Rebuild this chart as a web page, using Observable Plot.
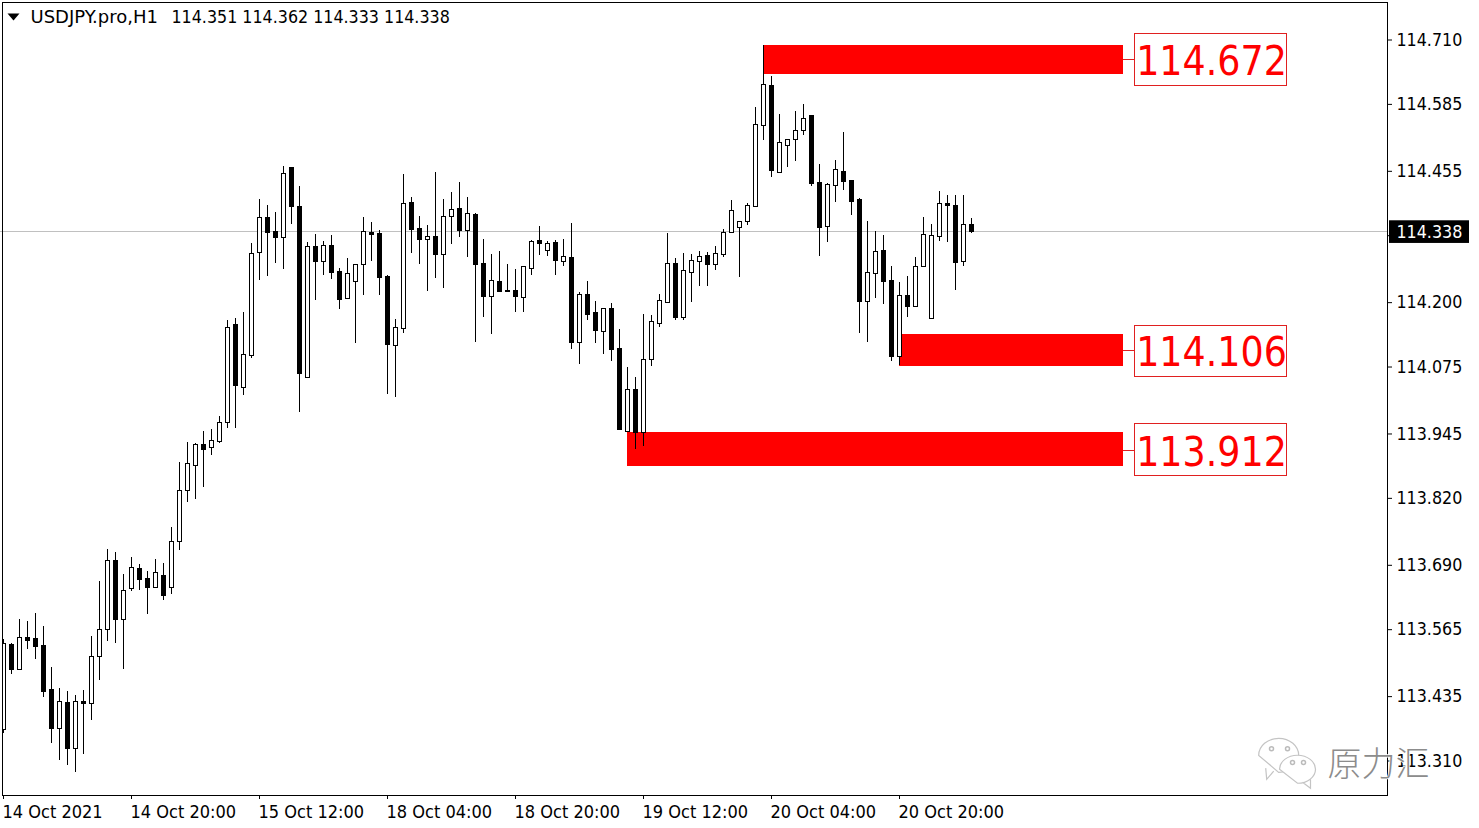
<!DOCTYPE html>
<html>
<head>
<meta charset="utf-8">
<script src="https://cdn.jsdelivr.net/npm/d3@7"></script>
<script src="https://cdn.jsdelivr.net/npm/@observablehq/plot@0.6"></script>
<style>
html,body{margin:0;padding:0;background:#fff;}
svg{display:block;max-width:none;}
</style>
</head>
<body>
<div id="chart"></div>
<script>
const openP = [113.370,113.535,113.487,113.549,113.547,113.533,113.448,113.372,113.423,113.333,113.425,113.421,113.511,113.564,113.698,113.584,113.644,113.683,113.663,113.646,113.669,113.646,113.735,113.834,113.883,113.923,113.917,113.929,113.966,114.157,114.034,114.096,114.296,114.364,114.337,114.326,114.461,114.386,114.053,114.308,114.279,114.310,114.260,114.207,114.240,114.273,114.335,114.333,114.250,114.116,114.149,114.394,114.343,114.322,114.327,114.292,114.366,114.382,114.339,114.370,114.275,114.211,114.240,114.223,114.223,114.209,114.265,114.320,114.300,114.316,114.279,114.287,114.122,114.215,114.180,114.143,114.188,114.110,113.949,114.030,113.947,114.089,114.158,114.199,114.275,114.170,114.258,114.279,114.291,114.273,114.292,114.335,114.345,114.357,114.386,114.543,114.621,114.452,114.504,114.516,114.533,114.562,114.432,114.347,114.427,114.454,114.436,114.399,114.201,114.256,114.300,114.242,114.095,114.213,114.192,114.269,114.168,114.327,114.392,114.388,114.279,114.351];
const highP = [113.545,113.537,113.584,113.580,113.595,113.570,113.491,113.450,113.444,113.436,113.446,113.551,113.658,113.720,113.714,113.671,113.704,113.691,113.677,113.700,113.692,113.762,113.889,113.927,113.925,113.949,113.953,113.978,114.164,114.168,114.180,114.314,114.399,114.388,114.374,114.463,114.461,114.425,114.316,114.331,114.318,114.329,114.265,114.285,114.273,114.364,114.355,114.339,114.252,114.166,114.448,114.403,114.366,114.349,114.452,114.399,114.413,114.432,114.403,114.372,114.322,114.292,114.298,114.273,114.263,114.269,114.320,114.347,114.318,114.320,114.322,114.353,114.219,114.240,114.201,114.188,114.197,114.147,114.073,114.054,114.176,114.174,114.215,114.333,114.285,114.294,114.292,114.298,114.296,114.308,114.341,114.397,114.357,114.392,114.578,114.698,114.638,114.564,114.516,114.570,114.584,114.562,114.467,114.430,114.475,114.529,114.436,114.401,114.357,114.337,114.329,114.269,114.238,114.250,114.287,114.364,114.351,114.415,114.407,114.407,114.407,114.362];
const lowP = [113.362,113.477,113.487,113.526,113.506,113.432,113.343,113.310,113.300,113.287,113.322,113.388,113.465,113.541,113.537,113.487,113.638,113.640,113.593,113.646,113.621,113.632,113.718,113.811,113.817,113.840,113.902,113.925,113.955,113.955,114.019,114.091,114.242,114.250,114.275,114.263,114.351,113.986,114.053,114.203,114.252,114.244,114.186,114.207,114.120,114.213,114.279,114.213,114.021,114.015,114.139,114.294,114.273,114.221,114.246,114.227,114.312,114.326,114.287,114.122,114.170,114.137,114.221,114.221,114.180,114.180,114.252,114.291,114.289,114.252,114.269,114.108,114.079,114.164,114.120,114.098,114.085,113.951,113.947,113.913,113.920,114.075,114.151,114.199,114.164,114.164,114.199,114.230,114.230,114.261,114.287,114.333,114.248,114.349,114.384,114.514,114.442,114.452,114.461,114.473,114.524,114.425,114.289,114.316,114.394,114.417,114.368,114.139,114.122,114.207,114.195,114.085,114.077,114.170,114.192,114.269,114.168,114.318,114.316,114.223,114.269,114.333];
const closeP = [113.537,113.487,113.549,113.543,113.531,113.444,113.372,113.425,113.333,113.425,113.421,113.512,113.564,113.698,113.584,113.640,113.685,113.661,113.646,113.675,113.630,113.735,113.834,113.887,113.923,113.913,113.931,113.966,114.151,114.038,114.098,114.294,114.364,114.335,114.326,114.450,114.386,114.061,114.308,114.279,114.310,114.258,114.205,114.256,114.273,114.337,114.331,114.248,114.118,114.151,114.392,114.341,114.322,114.327,114.292,114.366,114.380,114.339,114.372,114.273,114.211,114.242,114.221,114.221,114.211,114.269,114.318,114.314,114.314,114.281,114.289,114.122,114.215,114.176,114.145,114.188,114.108,113.953,114.030,113.947,114.089,114.162,114.203,114.275,114.170,114.262,114.281,114.289,114.273,114.294,114.335,114.378,114.357,114.388,114.545,114.623,114.456,114.510,114.516,114.533,114.557,114.430,114.345,114.428,114.458,114.434,114.395,114.201,114.258,114.298,114.240,114.095,114.213,114.192,114.269,114.331,114.329,114.392,114.388,114.277,114.351,114.338];

const xTicks = [0,16,32,48,64,80,96,112];
const xLabels = ["14 Oct 2021","14 Oct 20:00","15 Oct 12:00","18 Oct 04:00","18 Oct 20:00","19 Oct 12:00","20 Oct 04:00","20 Oct 20:00"];
const yTicks = [114.710,114.585,114.455,114.330,114.200,114.075,113.945,113.820,113.690,113.565,113.435,113.310];
const hiddenTick = 114.330;
const lastPrice = 114.338;

const levels = [114.672,114.106,113.912];
const zoneStart = [95,112,78];
const zoneEnd = 140;
const zoneTop = [114.698,114.137,113.947];
const zoneBottom = [114.642,114.075,113.881];
const boxLeft = 141.375, boxRight = 160.375;
const boxTop = [114.722,114.155,113.964];
const boxBottom = [114.621,114.056,113.863];

const headerName = "USDJPY.pro,H1";
const headerValues = "114.351 114.362 114.333 114.338";
const watermark = "原力汇";

const candles = openP.map((o,i)=>({i,o,h:highP[i],l:lowP[i],c:closeP[i]}));
const zones = levels.map((v,k)=>({v,start:zoneStart[k],top:zoneTop[k],bottom:zoneBottom[k],boxTop:boxTop[k],boxBottom:boxBottom[k]}));

const font = "'DejaVu Sans Condensed','Noto Sans',sans-serif";
const fs = 17.7;
const red = "#ff0000";

const bubble = (rx,ry,tx,ty,bx)=>({draw(c){
  const k=0.5523;
  const s=tx>0?1:-1;
  c.moveTo(-rx,0);
  c.bezierCurveTo(-rx,-ry*k,-rx*k,-ry,0,-ry);
  c.bezierCurveTo(rx*k,-ry,rx,-ry*k,rx,0);
  c.bezierCurveTo(rx,ry*k,rx*k,ry,0,ry);
  c.closePath();
  c.moveTo(bx-4*s,ry*0.93);
  c.lineTo(tx,ty);
  c.lineTo(bx+4*s,ry*0.75);
}});
const caret = {draw(c){c.moveTo(-6,-3.5);c.lineTo(6,-3.5);c.lineTo(0,3.5);c.closePath();}};

const chart = Plot.plot({
  width:1479,height:828,
  marginLeft:2,marginTop:2,marginRight:92,marginBottom:33,
  x:{type:"linear",domain:[0,173],range:[3,1387],axis:null},
  y:{type:"linear",domain:[113.31,114.71],range:[760,39],axis:null},
  style:{fontFamily:font,background:"#fff",overflow:"visible"},
  marks:[
    Plot.ruleY([lastPrice],{x1:-0.4,x2:173,stroke:"#c0c0c0",shapeRendering:"crispEdges"}),
    Plot.rect(zones,{x1:"start",x2:zoneEnd,y1:"bottom",y2:"top",fill:red,shapeRendering:"crispEdges"}),
    Plot.ruleX(candles,{x:"i",y1:"l",y2:"h",stroke:"#000",strokeWidth:1,clip:"frame",shapeRendering:"crispEdges"}),
    Plot.rect(candles,{
      x1:d=>d.i-0.25,x2:d=>d.i+0.25,
      y1:d=>Math.min(d.o,d.c),y2:d=>Math.max(d.o,d.c),
      fill:d=>d.c>=d.o?"#fff":"#000",stroke:"#000",strokeWidth:1,
      dx:0.5,dy:0.5,shapeRendering:"crispEdges",clip:"frame"
    }),
    Plot.ruleY(zones,{y:"v",x1:zoneEnd,x2:boxLeft,stroke:"#e02020",shapeRendering:"crispEdges"}),
    Plot.rect(zones,{x1:boxLeft,x2:boxRight,y1:"boxBottom",y2:"boxTop",fill:"#fff",stroke:"#e02020",strokeWidth:1,dx:0.5,dy:0.5,shapeRendering:"crispEdges"}),
    Plot.text(zones,{x:(boxLeft+boxRight)/2,y:"v",text:d=>d.v.toFixed(3),dx:1,dy:2.5,fill:red,fontSize:40.5}),
    Plot.frame({stroke:"#000",strokeWidth:1}),
    Plot.axisX({anchor:"bottom",ticks:xTicks,tickFormat:()=>"",tickSize:4,label:null,stroke:"#000"}),
    Plot.axisX({anchor:"bottom",ticks:xTicks,tickFormat:d=>xLabels[xTicks.indexOf(d)],textAnchor:"start",tickSize:0,tickPadding:10,fontSize:18,dx:-1,label:null,fill:"#000"}),
    Plot.axisY({anchor:"right",ticks:yTicks,tickFormat:d=>d===hiddenTick?"":d.toFixed(3),tickSize:4,tickPadding:5,fontSize:fs,dy:0.5,label:null,stroke:"#000",fill:"#000"}),
    Plot.rect([lastPrice],{x1:173.25,x2:183.25,y1:114.314,y2:114.358,fill:"#000"}),
    Plot.text([lastPrice],{x:174.125,y:d=>d,text:d=>d.toFixed(3),dy:1,textAnchor:"start",fill:"#fff",fontSize:fs}),
    Plot.dot([0],{frameAnchor:"top-left",dx:11,dy:14.5,r:6,symbol:caret,fill:"#000"}),
    Plot.text([headerName],{frameAnchor:"top-left",dx:28,dy:8,textAnchor:"start",lineAnchor:"top",fontSize:18,fontFamily:"'DejaVu Sans'",fill:"#000"}),
    Plot.text([headerValues],{frameAnchor:"top-left",dx:169,dy:8,textAnchor:"start",lineAnchor:"top",fontSize:fs,fill:"#000"}),
    Plot.dot([0],{x:159.4,y:113.320,r:18,symbol:bubble(20,17,-12,24,-9),fill:"#fff",stroke:"#c4c4c4",strokeWidth:1.2}),
    Plot.dot([0],{x:161.75,y:113.293,r:18,symbol:bubble(18,14,13,19,9),fill:"#fff",stroke:"#c4c4c4",strokeWidth:1.2}),
    Plot.dot([158.5,160.5],{x:d=>d,y:113.333,r:2,fill:"#fff",stroke:"#bbb"}),
    Plot.dot([161.125,162.5],{x:d=>d,y:113.306,r:2,fill:"#fff",stroke:"#bbb"}),
    Plot.text([watermark],{x:171.875,y:113.302,fontSize:34,fontFamily:"'Noto Sans CJK SC'",fontWeight:300,fill:"#8c8c8c",stroke:"#fff",strokeWidth:1.5,paintOrder:"stroke"})
  ]
});
document.getElementById("chart").appendChild(chart);
</script>
</body>
</html>
